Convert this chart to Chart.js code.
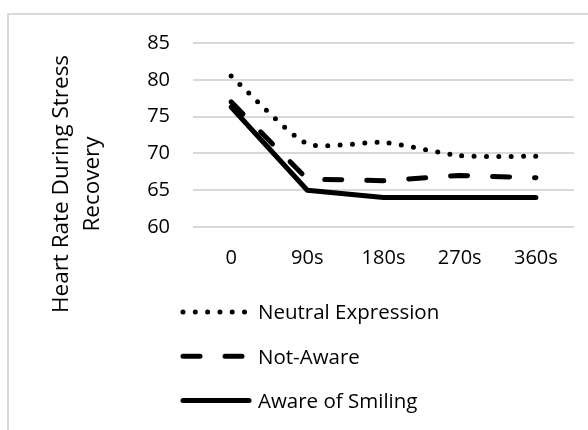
<!DOCTYPE html>
<html>
<head>
<meta charset="utf-8">
<script src="https://cdn.jsdelivr.net/npm/chart.js@4.4.1/dist/chart.umd.min.js"></script>
<style>
  html, body { margin: 0; padding: 0; background: #fff; }
  #wrap { position: relative; width: 588px; height: 430px; overflow: hidden; }
  #frame {
    position: absolute; left: 7px; top: 13px; right: -10px; bottom: -10px;
    border-left: 2px solid #d9d9d9; border-top: 2px solid #d9d9d9;
  }
  #chart { position: absolute; left: 0; top: 0; }
</style>
</head>
<body>
<div id="wrap">
  <div id="frame"></div>
  <canvas id="chart" width="588" height="430"></canvas>
</div>
<script>
// recovery time points and mean heart rate per group
const timePoints = ['0', '90s', '180s', '270s', '360s'];
const neutralExpression = [80.5, 71.3, 71.5, 69.7, 69.6];
const notAware = [77.0, 66.5, 66.3, 67.0, 66.7];
const awareOfSmiling = [76.3, 65.0, 64.0, 64.0, 64.0];
const yTicks = [60, 65, 70, 75, 80, 85];
const yTitle = ['Heart Rate During Stress', 'Recovery'];

const FONT = '"Open Sans", "DejaVu Sans", sans-serif';
const INK = '#000';

Chart.defaults.font.family = FONT;
Chart.defaults.color = INK;

// rotated two-line axis title, left of the tick labels
const axisTitle = {
  id: 'axisTitle',
  afterDraw(chart) {
    const ctx = chart.ctx;
    ctx.save();
    ctx.fillStyle = INK;
    ctx.font = '22.5px ' + FONT;
    ctx.textAlign = 'center';
    ctx.textBaseline = 'alphabetic';
    yTitle.forEach((line, i) => {
      ctx.save();
      ctx.translate(67.5 + i * 31, 184);
      ctx.rotate(-Math.PI / 2);
      ctx.fillText(line, 0, 0);
      ctx.restore();
    });
    ctx.restore();
  }
};

// stacked legend under the plot, one row per series
const stackedLegend = {
  id: 'stackedLegend',
  afterDraw(chart) {
    const ctx = chart.ctx;
    chart.data.datasets.forEach((ds, i) => {
      const y = 312 + i * 44.3;
      ctx.save();
      ctx.strokeStyle = ds.borderColor;
      ctx.lineWidth = ds.borderWidth;
      ctx.lineCap = 'round';
      ctx.setLineDash(ds.borderDash || []);
      ctx.beginPath();
      ctx.moveTo(183, y);
      ctx.lineTo(249, y);
      ctx.stroke();
      ctx.setLineDash([]);
      ctx.fillStyle = INK;
      ctx.font = '20.5px ' + FONT;
      ctx.textBaseline = 'alphabetic';
      ctx.fillText(ds.label, 258, y + 7.4);
      ctx.restore();
    });
  }
};

const lineStyle = {
  borderColor: INK,
  borderWidth: 5,
  borderCapStyle: 'round',
  borderJoinStyle: 'round',
  pointRadius: 0,
  pointHoverRadius: 0,
  fill: false
};

new Chart(document.getElementById('chart'), {
  type: 'line',
  data: {
    labels: timePoints,
    datasets: [
      { ...lineStyle, label: 'Neutral Expression', data: neutralExpression, borderDash: [0, 12.3], tension: 0.2 },
      { ...lineStyle, label: 'Not-Aware', data: notAware, borderDash: [17, 25], tension: 0 },
      { ...lineStyle, label: 'Aware of Smiling', data: awareOfSmiling, tension: 0 }
    ]
  },
  options: {
    responsive: false,
    animation: false,
    events: [],
    layout: { padding: { left: 0, top: 43, right: 14, bottom: 143 } },
    plugins: {
      legend: { display: false },
      tooltip: { enabled: false }
    },
    scales: {
      x: {
        offset: true,
        grid: { display: false, drawTicks: false },
        border: { display: false },
        ticks: { font: { size: 20 }, padding: 19, maxRotation: 0 },
        afterFit: s => { s.height = 60; }
      },
      y: {
        min: 60,
        max: 85,
        grid: { color: '#d9d9d9', lineWidth: 2, drawTicks: false },
        border: { display: false },
        ticks: { font: { size: 20 }, padding: 23 },
        afterBuildTicks: s => { s.ticks = yTicks.map(v => ({ value: v })); },
        afterFit: s => { s.width = 193; }
      }
    }
  },
  plugins: [axisTitle, stackedLegend]
});
</script>
</body>
</html>
